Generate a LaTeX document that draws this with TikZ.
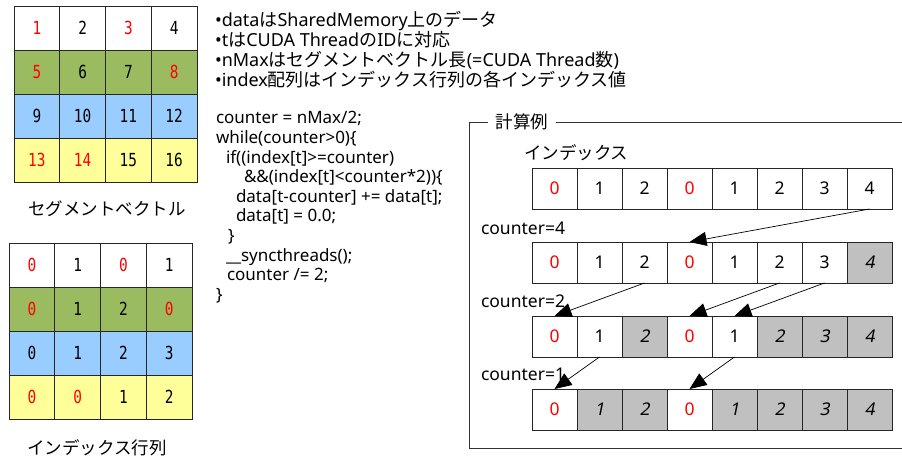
\documentclass[tikz,border=0pt]{standalone}
\usepackage{fontspec}
\setmainfont{Noto Sans}
\newfontfamily\jp{Noto Sans CJK JP}
\newfontfamily\monofont[FakeStretch=0.8]{DejaVu Sans Mono}
\newfontfamily\slfont[FakeSlant=0.2]{Noto Sans}
\newcommand\J[1]{{\jp #1}}
\usetikzlibrary{arrows.meta}
\definecolor{cgreen}{RGB}{155,187,96}
\definecolor{cblue}{RGB}{153,204,255}
\definecolor{cyellow}{RGB}{255,255,153}
\definecolor{cgray}{RGB}{192,192,192}
\definecolor{cred}{RGB}{255,0,0}
\tikzset{
  cellbox/.style={draw=black!85, line width=0.8pt, inner sep=0pt, outer sep=0pt, anchor=north west},
  gcell/.style={cellbox, minimum width=45.75pt, minimum height=44pt, font=\monofont\fontsize{18}{18}\selectfont},
  rcell/.style={cellbox, minimum width=45pt, minimum height=41pt, font=\fontsize{17.5}{17.5}\selectfont},
  txt/.style={inner sep=0pt, outer sep=0pt, font=\fontsize{17.5}{20}\selectfont},
  ntxt/.style={inner sep=0pt, outer sep=0pt, anchor=base west, font=\fontsize{18}{20}\selectfont},
  jtxt/.style={txt, font=\jp\fontsize{17.5}{20}\selectfont},
  codetxt/.style={inner sep=0pt, outer sep=0pt, anchor=base west, font=\fontsize{17}{19.6}\selectfont},
  arr/.style={line width=0.7pt, -{Triangle[length=17pt,width=14pt]}},
}
\begin{document}
\begin{tikzpicture}[x=1pt,y=-1pt]
\useasboundingbox (0,0) rectangle (902,457);
% ---------- segment vector grid
\foreach \i/\t/\tc in {1/1/cred,2/2/black,3/3/cred,4/4/black}
  \node[gcell, fill=white, text=\tc] (ga1-\i) at ({14+45.75*(\i-1)},6) {\t};
\foreach \i/\t/\tc in {1/5/cred,2/6/black,3/7/black,4/8/cred}
  \node[gcell, fill=cgreen, text=\tc] (ga2-\i) at ({14+45.75*(\i-1)},50) {\t};
\foreach \i/\t/\tc in {1/9/black,2/10/black,3/11/black,4/12/black}
  \node[gcell, fill=cblue, text=\tc] (ga3-\i) at ({14+45.75*(\i-1)},94) {\t};
\foreach \i/\t/\tc in {1/13/cred,2/14/cred,3/15/black,4/16/black}
  \node[gcell, fill=cyellow, text=\tc] (ga4-\i) at ({14+45.75*(\i-1)},138) {\t};
\node[jtxt] (capa) at (107,209) {セグメントベクトル};
% ---------- index matrix grid
\foreach \i/\t/\tc in {1/0/cred,2/1/black,3/0/cred,4/1/black}
  \node[gcell, fill=white, text=\tc] (gb1-\i) at ({9+45.75*(\i-1)},243) {\t};
\foreach \i/\t/\tc in {1/0/cred,2/1/black,3/2/black,4/0/cred}
  \node[gcell, fill=cgreen, text=\tc] (gb2-\i) at ({9+45.75*(\i-1)},287) {\t};
\foreach \i/\t/\tc in {1/0/black,2/1/black,3/2/black,4/3/black}
  \node[gcell, fill=cblue, text=\tc] (gb3-\i) at ({9+45.75*(\i-1)},331) {\t};
\foreach \i/\t/\tc in {1/0/cred,2/0/cred,3/1/black,4/2/black}
  \node[gcell, fill=cyellow, text=\tc] (gb4-\i) at ({9+45.75*(\i-1)},375) {\t};
\node[jtxt] (capb) at (97,448) {インデックス行列};
% ---------- notes
\node[ntxt] (n1) at (215,26.5) {•data\J{は}SharedMemory\J{上のデータ}};
\node[ntxt] (n2) at (215,46.5) {•t\J{は}CUDA Thread\J{の}ID\J{に対応}};
\node[ntxt] (n3) at (215,66.5) {•nMax\J{はセグメントベクトル長}(=CUDA Thread\J{数})};
\node[ntxt] (n4) at (215,86.5) {•index\J{配列はインデックス行列の各インデックス値}};
% ---------- code
\node[codetxt] (c1) at (216,124) {counter = nMax/2;};
\node[codetxt] (c2) at (216,143.6) {while(counter>0)\{};
\node[codetxt] (c3) at (226,163.2) {if((index[t]>=counter)};
\node[codetxt] (c4) at (244,182.8) {\&\&(index[t]<counter*2))\{};
\node[codetxt] (c5) at (236,202.4) {data[t-counter] += data[t];};
\node[codetxt] (c6) at (236,222) {data[t] = 0.0;};
\node[codetxt] (c7) at (228,241.6) {\}};
\node[codetxt] (c8) at (226,261.2) {\_\_syncthreads();};
\node[codetxt] (c9) at (227,280.8) {counter /= 2;};
\node[codetxt] (c10) at (216,300.4) {\}};
% ---------- example frame
\draw[line width=0.8pt, draw=black!80] (902,122) -- (469,122) -- (469,448) -- (902,448);
\node[jtxt, fill=white, inner xsep=8pt, inner ysep=2pt] (title) at (522,122) {計算例};
\node[jtxt, anchor=west] (idx) at (524,153) {インデックス};
\node[txt, anchor=west] (k4) at (481,228) {counter=4};
\node[txt, anchor=west] (k2) at (481,301) {counter=2};
\node[txt, anchor=west] (k1) at (481,374) {counter=1};
% row 1
\foreach \i/\t/\tc in {1/0/cred,2/1/black,3/2/black,4/0/cred,5/1/black,6/2/black,7/3/black,8/4/black}
  \node[rcell, fill=white, text=\tc] (ra-\i) at ({532+45*(\i-1)},168) {\t};
% row 2
\foreach \i/\t/\tc/\f/\s in {1/0/cred/white/0,2/1/black/white/0,3/2/black/white/0,4/0/cred/white/0,5/1/black/white/0,6/2/black/white/0,7/3/black/white/0,8/4/black/cgray/1}
  \node[rcell, fill=\f, text=\tc] (rb-\i) at ({532+45*(\i-1)},242) {\ifnum\s=1 \slfont\fi\t};
% row 3
\foreach \i/\t/\tc/\f/\s in {1/0/cred/white/0,2/1/black/white/0,3/2/black/cgray/1,4/0/cred/white/0,5/1/black/white/0,6/2/black/cgray/1,7/3/black/cgray/1,8/4/black/cgray/1}
  \node[rcell, fill=\f, text=\tc] (rc-\i) at ({532+45*(\i-1)},316) {\ifnum\s=1 \slfont\fi\t};
% row 4
\foreach \i/\t/\tc/\f/\s in {1/0/cred/white/0,2/1/black/cgray/1,3/2/black/cgray/1,4/0/cred/white/0,5/1/black/cgray/1,6/2/black/cgray/1,7/3/black/cgray/1,8/4/black/cgray/1}
  \node[rcell, fill=\f, text=\tc] (rd-\i) at ({532+45*(\i-1)},389) {\ifnum\s=1 \slfont\fi\t};
% arrows
\draw[arr] (ra-8.south) -- (rb-4.north);
\draw[arr] (rb-3.south) -- (rc-1.north);
\draw[arr] (rb-6.south) -- (rc-4.north);
\draw[arr] (rb-7.south) -- (rc-5.north);
\draw[arr] (rc-2.south) -- (rd-1.north);
\draw[arr] (rc-5.south) -- (rd-4.north);
\end{tikzpicture}
\end{document}
